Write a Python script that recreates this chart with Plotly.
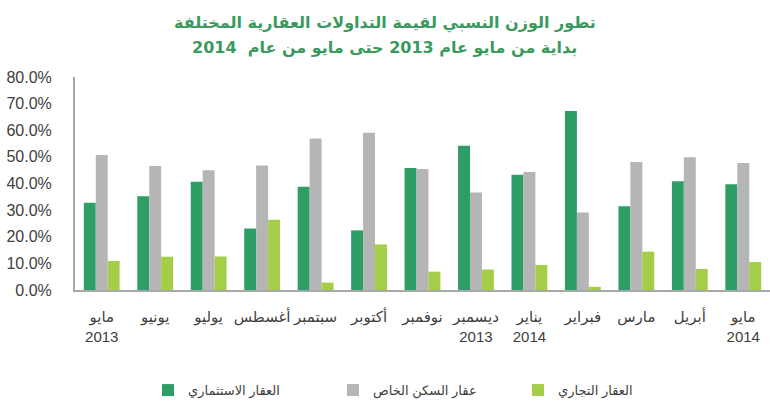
import plotly.graph_objects as go

categories = ["مايو<br>2013", "يونيو", "يوليو", "أغسطس", "سبتمبر", "أكتوبر", "نوفمبر",
              "ديسمبر<br>2013", "يناير<br>2014", "فبراير", "مارس", "أبريل", "مايو<br>2014"]
investment = [32.8, 35.2, 40.7, 23.1, 38.8, 22.4, 45.8, 54.2, 43.3, 67.2, 31.5, 40.8, 39.7]
private_housing = [50.7, 46.6, 45.0, 46.8, 56.9, 59.1, 45.4, 36.6, 44.3, 29.1, 48.1, 49.9, 47.7]
commercial = [10.9, 12.5, 12.6, 26.4, 2.8, 17.1, 6.9, 7.7, 9.4, 1.2, 14.4, 7.9, 10.5]
series_names = ["العقار الاستثماري", "عقار السكن الخاص", "العقار التجاري"]
title_lines = ["تطور الوزن النسبي لقيمة التداولات العقارية المختلفة",
               "بداية من مايو عام 2013 حتى مايو من عام  2014"]
colors = ["#2E9E66", "#B5B5B5", "#A5CE48"]

x_idx = list(range(len(categories)))
fig = go.Figure()
for name, vals, col in zip(series_names, [investment, private_housing, commercial], colors):
    fig.add_trace(go.Bar(x=x_idx, y=[v / 100 for v in vals], name=name,
                         marker=dict(color=col, line=dict(width=0))))

for i, line in enumerate(title_lines):
    fig.add_annotation(text="<b>" + line + "</b>", xref="paper", yref="paper",
                       x=0.446, xanchor="center", y=1.2535 - 0.113 * i, yanchor="middle",
                       showarrow=False,
                       font=dict(size=16, color="#3A9A5E", family="DejaVu Sans, Liberation Sans"))

fig.update_layout(
    width=770, height=419,
    margin=dict(l=75, r=0, t=77, b=129),
    paper_bgcolor="white", plot_bgcolor="white",
    barmode="group", bargap=0.33, bargroupgap=0,
    font=dict(family="Liberation Sans, Arial, DejaVu Sans", color="#404040"),
    legend=dict(orientation="h", x=0.105, xanchor="left", y=-0.47, yanchor="middle",
                font=dict(size=13, color="#404040"), entrywidth=140, entrywidthmode="pixels",
                itemwidth=30, traceorder="normal"),
    xaxis=dict(tickmode="array", tickvals=x_idx, ticktext=categories,
               range=[-0.5, len(categories) - 0.5],
               showline=True, linecolor="#A8A8A8", linewidth=2,
               ticks="", showgrid=False, tickfont=dict(size=15, color="#404040"),
               ticklabelstandoff=12),
    yaxis=dict(range=[0, 0.8], dtick=0.1, tickformat=".1%",
               showline=True, linecolor="#A8A8A8", linewidth=2,
               showgrid=False, zeroline=False, ticks="",
               tickfont=dict(size=16, color="#404040"), ticklabelstandoff=18),
)

fig.write_html("out.html")
